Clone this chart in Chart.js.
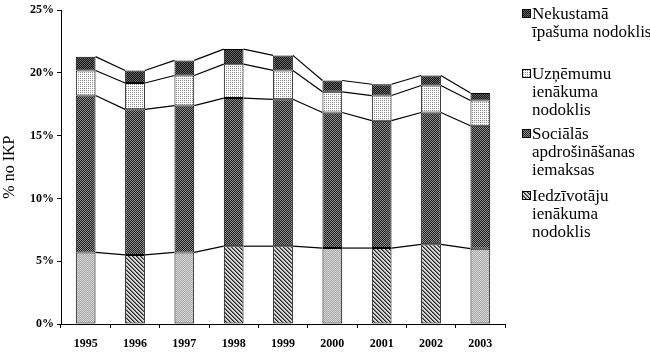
<!DOCTYPE html>
<html>
<head>
<meta charset="utf-8">
<script src="https://cdn.jsdelivr.net/npm/chart.js@4.4.1/dist/chart.umd.min.js"></script>
<style>
  body { margin: 0; background: #fff; }
  #wrap { position: relative; width: 650px; height: 355px; }
  #chart { position: absolute; left: 0; top: 0; }
  .item { position: absolute; left: 522px; font: 17px "Liberation Serif", serif; line-height: 18px; color: #000; white-space: nowrap; }
  .item canvas { position: absolute; left: 0; top: 4px; border: 1px solid #000; }
  .item span { display: block; margin-left: 10px; }
</style>
</head>
<body>
<div id="wrap">
  <canvas id="chart" width="650" height="355"></canvas>
  <div id="legend"></div>
</div>
<script>
const years = ['1995', '1996', '1997', '1998', '1999', '2000', '2001', '2002', '2003'];

// % no IKP
const iedzivotaju = [5.7, 5.5, 5.7, 6.2, 6.2, 6.05, 6.05, 6.35, 6.0];
const socialas = [12.5, 11.6, 11.7, 11.8, 11.7, 10.8, 10.15, 10.5, 9.8];
const uznemumu = [2.0, 2.1, 2.4, 2.7, 2.3, 1.65, 2.0, 2.15, 2.0];
const nekustama = [1.1, 1.0, 1.2, 1.2, 1.2, 0.9, 0.9, 0.8, 0.6];

// skenējuma raksts apakšējiem stabiņiem
const iedzStyle = ['stipple', 'hatch', 'stipple', 'hatch', 'hatch', 'stipple', 'hatch', 'hatch', 'stipple'];

function tile(size, painter) {
  const c = document.createElement('canvas');
  c.width = size; c.height = size;
  const ctx = c.getContext('2d');
  for (let y = 0; y < size; y++) {
    for (let x = 0; x < size; x++) {
      ctx.fillStyle = painter(x, y);
      ctx.fillRect(x, y, 1, 1);
    }
  }
  return c;
}

const tiles = {
  hatch: tile(4, (x, y) => { const d = (x - y + 4) % 4; return d === 0 ? '#222' : d === 1 ? '#777' : '#d8d8d8'; }),
  stipple: tile(2, (x, y) => ((x + y) % 2 ? '#aaa' : '#d4d4d4')),
  dark: tile(2, (x, y) => ((x + y) % 2 ? '#222' : '#8a8a8a')),
  darker: tile(2, (x, y) => ((x + y) % 2 ? '#111' : '#6a6a6a')),
  dots: tile(2, (x, y) => (x === 0 && y === 0 ? '#888' : '#fff'))
};

const canvas = document.getElementById('chart');
const ctx = canvas.getContext('2d');
const pat = name => ctx.createPattern(tiles[name], 'repeat');

// līnijas starp stabiņiem
const seriesLines = {
  id: 'seriesLines',
  afterDatasetsDraw(chart) {
    const c = chart.ctx;
    c.save();
    c.strokeStyle = '#000';
    c.lineWidth = 1.2;
    chart.data.datasets.forEach((ds, di) => {
      const bars = chart.getDatasetMeta(di).data;
      for (let i = 0; i < bars.length - 1; i++) {
        const a = bars[i], b = bars[i + 1];
        c.beginPath();
        c.moveTo(a.x + a.width / 2, a.y);
        c.lineTo(b.x - b.width / 2, b.y);
        c.stroke();
      }
    });
    c.restore();
  }
};

const common = { borderColor: '#000', borderWidth: 1, borderSkipped: false, barPercentage: 0.4, categoryPercentage: 1 };

const datasets = [
  { label: 'Iedzīvotāju ienākuma nodoklis', data: iedzivotaju, backgroundColor: iedzStyle.map(pat), ...common },
  { label: 'Sociālās apdrošināšanas iemaksas', data: socialas, backgroundColor: pat('dark'), ...common },
  { label: 'Uzņēmumu ienākuma nodoklis', data: uznemumu, backgroundColor: pat('dots'), ...common },
  { label: 'Nekustamā īpašuma nodoklis', data: nekustama, backgroundColor: pat('darker'), ...common }
];

const tickFont = { family: '"Liberation Serif", serif', size: 12, weight: 'bold' };

new Chart(canvas, {
  type: 'bar',
  data: { labels: years, datasets },
  options: {
    responsive: false,
    animation: false,
    layout: { padding: { top: 9, right: 145, left: 0, bottom: 0 } },
    plugins: { legend: { display: false }, tooltip: { enabled: false } },
    scales: {
      x: {
        stacked: true,
        grid: { drawOnChartArea: false, tickLength: 4, color: '#000', offset: true },
        border: { color: '#000', width: 1 },
        ticks: { font: tickFont, color: '#000', padding: 9, maxRotation: 0 },
        afterFit: s => { s.height = 31; }
      },
      y: {
        stacked: true,
        min: 0,
        max: 25,
        grid: { drawOnChartArea: false, tickLength: 4, color: '#000' },
        border: { color: '#000', width: 1 },
        ticks: { stepSize: 5, font: tickFont, color: '#000', padding: 3, callback: v => v + '%' },
        title: { display: true, text: '% no IKP', color: '#000', font: { family: '"Liberation Serif", serif', size: 16 }, padding: { top: 0, bottom: 2 } },
        afterFit: s => { s.width = 61; }
      }
    }
  },
  plugins: [seriesLines]
});

// leģenda labajā pusē
const legendItems = [
  { lines: ['Nekustamā', 'īpašuma nodoklis'], fill: 'darker', top: 5 },
  { lines: ['Uzņēmumu', 'ienākuma', 'nodoklis'], fill: 'dots', top: 65 },
  { lines: ['Sociālās', 'apdrošināšanas', 'iemaksas'], fill: 'dark', top: 125 },
  { lines: ['Iedzīvotāju', 'ienākuma', 'nodoklis'], fill: 'hatch', top: 187 }
];

const legend = document.getElementById('legend');
legendItems.forEach(it => {
  const div = document.createElement('div');
  div.className = 'item';
  div.style.top = it.top + 'px';
  const box = document.createElement('canvas');
  box.width = 7; box.height = 7;
  const bctx = box.getContext('2d');
  bctx.fillStyle = bctx.createPattern(tiles[it.fill], 'repeat');
  bctx.fillRect(0, 0, 7, 7);
  div.appendChild(box);
  it.lines.forEach(t => {
    const s = document.createElement('span');
    s.textContent = t;
    div.appendChild(s);
  });
  legend.appendChild(div);
});
</script>
</body>
</html>
